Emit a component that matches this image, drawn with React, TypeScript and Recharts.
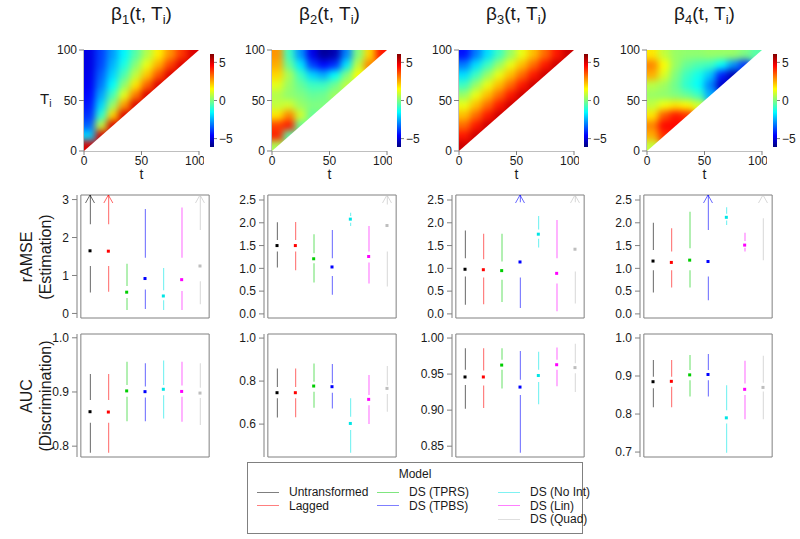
import React from "react";
import {
  ComposedChart,
  Scatter,
  Bar,
  Cell,
  XAxis,
  YAxis,
  ReferenceArea,
} from "recharts";

// ---- data ----

const MODELS = [
  "Untransformed",
  "Lagged",
  "DS (TPRS)",
  "DS (TPBS)",
  "DS (No Int)",
  "DS (Lin)",
  "DS (Quad)",
];

// heatmap cells: 10x10 grid over (t, T_i), only T_i >= t is defined
const CELL_T = [5, 15, 25, 35, 45, 55, 65, 75, 85, 95];
const CELL_TI = [95, 85, 75, 65, 55, 45, 35, 25, 15, 5];

const beta1Grid = [
  [-4.9, -3.8, -2.7, -1.6, -0.5, 0.6, 1.7, 2.8, 3.9, 5.0],
  [-4.9, -3.7, -2.4, -1.2, 0.1, 1.3, 2.5, 3.8, 5.0],
  [-4.8, -3.4, -2.0, -0.6, 0.8, 2.2, 3.6, 5.0],
  [-4.7, -3.1, -1.5, 0.2, 1.8, 3.4, 5.0],
  [-4.5, -2.6, -0.7, 1.2, 3.1, 5.0],
  [-4.3, -2.0, 0.3, 2.7, 5.0],
  [-4.0, -1.0, 2.0, 5.0],
  [-3.4, 0.8, 5.0],
  [-2.0, 5.0],
  [5.0],
];

const beta2Grid = [
  [2.8, -0.8, -2.8, -4.8, -5.8, -5.5, -3.0, 0.0, 2.0, 4.3],
  [2.5, -0.3, -1.8, -3.8, -4.5, -4.0, -1.8, 0.8, 3.0],
  [2.0, 0.5, -0.8, -2.0, -2.5, -1.5, 0.0, 1.5],
  [1.2, 0.3, -0.3, -0.8, -0.8, -0.2, 0.8],
  [0.6, 0.2, 0.0, -0.3, -0.2, 0.4],
  [0.8, 1.0, 0.3, 0.0, 0.0],
  [1.8, 3.0, 1.0, -0.3],
  [3.8, 4.3, -0.3],
  [4.2, -0.5],
  [0.5],
];

const beta3Grid = [
  [-4.4, -3.1, -1.9, -0.8, 0.3, 1.3, 2.3, 3.3, 4.3, 5.2],
  [-3.1, -1.9, -0.8, 0.3, 1.3, 2.3, 3.3, 4.3, 5.2],
  [-1.9, -0.8, 0.3, 1.3, 2.3, 3.3, 4.3, 5.2],
  [-0.8, 0.3, 1.3, 2.3, 3.3, 4.3, 5.2],
  [0.3, 1.3, 2.3, 3.3, 4.3, 5.2],
  [1.3, 2.3, 3.3, 4.3, 5.2],
  [2.3, 3.3, 4.3, 5.2],
  [3.3, 4.3, 5.2],
  [4.3, 5.2],
  [5.2],
];

const beta4Grid = [
  [1.8, 0.8, 0.3, 0.2, 0.2, 0.3, 0.3, 0.3, 0.0, -0.5],
  [3.0, 1.5, 0.3, -0.3, -0.6, -0.8, -1.5, -2.8, -4.0],
  [2.5, 1.1, 0.0, -0.8, -1.3, -2.2, -4.2, -5.5],
  [0.7, 0.4, -0.2, -1.0, -1.5, -3.0, -5.2],
  [0.3, 0.2, 0.0, -0.3, -0.8, -2.5],
  [0.8, 1.4, 1.8, 1.6, 1.0],
  [1.8, 3.5, 4.3, 4.0],
  [3.0, 4.5, 4.5],
  [2.5, 4.0],
  [0.8],
];

const HEAT_TICKS = [0, 50, 100];
const COLORBAR_TICKS = [-5, 0, 5];
const COLOR_LIMIT = 6.1;

// per model: [low whisker, q1, median, q3, high whisker]
const ramseB1 = [
  [0.55, 1.25, 1.65, 2.35, 3.6],
  [0.57, 1.25, 1.64, 2.35, 3.6],
  [0.09, 0.41, 0.56, 0.72, 1.31],
  [0.12, 0.63, 0.92, 1.47, 2.75],
  [0.09, 0.35, 0.46, 0.61, 1.2],
  [0.09, 0.59, 0.89, 1.47, 2.79],
  [0.24, 0.85, 1.25, 2.2, 3.6],
];
const ramseB2 = [
  [1.02, 1.37, 1.5, 1.62, 2.01],
  [0.96, 1.37, 1.5, 1.62, 2.02],
  [0.69, 1.11, 1.21, 1.33, 1.75],
  [0.42, 0.83, 1.03, 1.22, 1.84],
  [1.93, 2.0, 2.08, 2.15, 2.22],
  [0.67, 1.13, 1.26, 1.37, 1.93],
  [0.6, 1.37, 1.94, 2.4, 3.0],
];
const ramseB3 = [
  [0.2, 0.82, 0.98, 1.22, 1.83],
  [0.21, 0.8, 0.97, 1.2, 1.76],
  [0.26, 0.75, 0.95, 1.15, 1.76],
  [0.13, 0.8, 1.14, 2.45, 3.5],
  [1.46, 1.65, 1.75, 1.85, 2.15],
  [0.06, 0.67, 0.89, 1.22, 2.06],
  [0.23, 0.93, 1.42, 2.45, 3.5],
];
const ramseB4 = [
  [0.47, 0.96, 1.16, 1.4, 2.0],
  [0.58, 0.96, 1.13, 1.37, 1.88],
  [0.58, 0.96, 1.18, 1.44, 2.24],
  [0.3, 0.82, 1.15, 1.84, 3.5],
  [1.95, 2.05, 2.12, 2.2, 2.34],
  [1.37, 1.45, 1.51, 1.6, 1.78],
  [1.18, 2.1, 2.9, 3.2, 3.5],
];

const aucB1 = [
  [0.788, 0.843, 0.8636, 0.885, 0.933],
  [0.788, 0.843, 0.863, 0.885, 0.933],
  [0.846, 0.891, 0.902, 0.913, 0.956],
  [0.846, 0.89, 0.9006, 0.91, 0.953],
  [0.851, 0.894, 0.905, 0.913, 0.958],
  [0.845, 0.891, 0.901, 0.912, 0.956],
  [0.839, 0.889, 0.898, 0.908, 0.953],
];
const aucB2 = [
  [0.631, 0.72, 0.746, 0.773, 0.859],
  [0.632, 0.72, 0.746, 0.773, 0.858],
  [0.676, 0.75, 0.777, 0.797, 0.882],
  [0.673, 0.746, 0.774, 0.79, 0.88],
  [0.467, 0.572, 0.603, 0.634, 0.72],
  [0.6, 0.688, 0.715, 0.735, 0.828],
  [0.657, 0.74, 0.766, 0.78, 0.87],
];
const aucB3 = [
  [0.902, 0.935, 0.946, 0.956, 0.986],
  [0.903, 0.934, 0.946, 0.955, 0.986],
  [0.93, 0.956, 0.9625, 0.97, 0.986],
  [0.841, 0.921, 0.932, 0.942, 0.982],
  [0.908, 0.939, 0.948, 0.956, 0.981],
  [0.933, 0.956, 0.963, 0.97, 0.987],
  [0.925, 0.951, 0.959, 0.965, 0.992],
];
const aucB4 = [
  [0.818, 0.868, 0.885, 0.898, 0.942],
  [0.818, 0.872, 0.886, 0.898, 0.942],
  [0.846, 0.889, 0.903, 0.916, 0.955],
  [0.846, 0.889, 0.904, 0.916, 0.958],
  [0.698, 0.775, 0.79, 0.81, 0.876],
  [0.786, 0.85, 0.865, 0.88, 0.94],
  [0.786, 0.859, 0.87, 0.882, 0.953],
];

const ramseTicks = [
  [0, 1, 2, 3],
  [0, 0.5, 1, 1.5, 2, 2.5],
  [0, 0.5, 1, 1.5, 2, 2.5],
  [0, 0.5, 1, 1.5, 2, 2.5],
];
const ramseDomains = [
  [-0.12, 3.12],
  [-0.09, 2.61],
  [-0.09, 2.61],
  [-0.09, 2.61],
];
const aucTicks = [
  [0.8, 0.9, 1.0],
  [0.6, 0.8, 1.0],
  [0.85, 0.9, 0.95, 1.0],
  [0.7, 0.8, 0.9, 1.0],
];
const aucDomains = [
  [0.78, 1.007],
  [0.447, 1.019],
  [0.835, 1.0056],
  [0.687, 1.0105],
];

// ---- look ----

const FONT = '"Liberation Sans", Arial, Helvetica, sans-serif';
const TEXT = "#1a1a1a";
const AXIS_GRAY = "#808080";
const DOT_COLORS = ["#000000", "#ff0000", "#00cd00", "#0000ff", "#00e5e5", "#ff00ff", "#bebebe"];
const LINE_OPACITY = 0.6;

const HEAT_LEFTS = [84, 272, 459, 647];
const HEAT_W = 115;
const HEAT_TOP = 50;
const HEAT_H = 101;
const BAR_LEFTS = [210, 397, 584, 773];
const BOX_LEFTS = [77, 264, 452, 640];
const BOX_W = 136;
const BOX_H = 123;
const RAMSE_TOP = 195;
const AUC_TOP = 334;

const tickStyle = { fill: TEXT, fontSize: 12, fontFamily: FONT };

function jet(v: number) {
  const x = Math.min(1, Math.max(0, (v + COLOR_LIMIT) / (2 * COLOR_LIMIT)));
  const c = (a: number) => Math.round(255 * Math.min(1, Math.max(0, a)));
  const r = c(1.5 - Math.abs(4 * x - 3));
  const g = c(1.5 - Math.abs(4 * x - 2));
  const b = c(1.5 - Math.abs(4 * x - 1));
  return `rgb(${r},${g},${b})`;
}

const HeatCell = (p: any) => {
  const w = HEAT_W / 10;
  const h = HEAT_H / 10;
  return (
    <rect
      x={p.cx - w / 2 - 0.3}
      y={p.cy - h / 2 - 0.3}
      width={w + 0.6}
      height={h + 0.6}
      fill={jet(p.payload.v)}
    />
  );
};

// white lower-right half (T_i < t), anchored at the (100, 0) corner
const UndefinedHalf = (p: any) => {
  const { cx, cy } = p;
  return (
    <polygon
      points={`${cx - HEAT_W},${cy} ${cx},${cy - HEAT_H} ${cx + 8},${cy - HEAT_H} ${cx + 8},${cy + 8} ${cx - HEAT_W},${cy + 8}`}
      fill="#ffffff"
    />
  );
};

const MedianDot = (p: any) => (
  <rect x={p.cx - 1.5} y={p.cy - 1.5} width={3} height={3} fill={DOT_COLORS[p.payload.idx]} />
);

const ArrowHead = (p: any) => {
  if (p.payload.tip == null) return <g />;
  return (
    <path
      d={`M${p.cx - 4.5},${p.cy + 8} L${p.cx},${p.cy} L${p.cx + 4.5},${p.cy + 8}`}
      fill="none"
      stroke={DOT_COLORS[p.payload.idx]}
      strokeOpacity={LINE_OPACITY}
      strokeWidth={1}
    />
  );
};

const UNDEFINED_CORNER = [{ t: 100, T: 0 }];

function HeatPanel({ grid, left }: { grid: number[][]; left: number }) {
  const cells = grid.flatMap((row, j) =>
    row.map((v, i) => ({ t: CELL_T[i], T: CELL_TI[j], v }))
  );
  return (
    <div style={{ position: "absolute", left: left - 40, top: HEAT_TOP - 10 }}>
      <ComposedChart
        width={40 + HEAT_W + 5}
        height={10 + HEAT_H + 30}
        margin={{ top: 10, right: 5, bottom: 0, left: 0 }}
      >
        <Scatter className="heat-cells" data={cells} dataKey="T" shape={HeatCell} isAnimationActive={false} />
        <Scatter data={UNDEFINED_CORNER} dataKey="T" shape={UndefinedHalf} isAnimationActive={false} />
        <XAxis
          type="number"
          dataKey="t"
          domain={[0, 100]}
          ticks={HEAT_TICKS}
          allowDataOverflow
          height={30}
          tickSize={4}
          tickMargin={1}
          stroke={AXIS_GRAY}
          tick={tickStyle}
        />
        <YAxis
          type="number"
          domain={[0, 100]}
          ticks={HEAT_TICKS}
          allowDataOverflow
          width={40}
          tickSize={5}
          tickMargin={2}
          stroke={AXIS_GRAY}
          tick={tickStyle}
        />
        <YAxis
          yAxisId="r"
          orientation="right"
          type="number"
          domain={[0, 100]}
          width={0}
          tick={false}
          stroke={AXIS_GRAY}
        />
      </ComposedChart>
    </div>
  );
}

function ColorBar({ left }: { left: number }) {
  return (
    <div style={{ position: "absolute", left, top: 48 }}>
      <ComposedChart width={4 + 30} height={105} data={[{ x: 0 }]} margin={{ top: 6, right: 0, bottom: 6, left: 0 }}>
        <XAxis type="number" dataKey="x" domain={[0, 1]} hide />
        <YAxis
          type="number"
          orientation="right"
          domain={[-COLOR_LIMIT, COLOR_LIMIT]}
          ticks={COLORBAR_TICKS}
          allowDataOverflow
          width={30}
          axisLine={false}
          tickSize={3}
          tickMargin={2}
          stroke={AXIS_GRAY}
          tick={tickStyle}
          tickFormatter={(v: number) => (v < 0 ? "\u2212" + Math.abs(v) : String(v))}
        />
        <ReferenceArea
          y1={-COLOR_LIMIT}
          y2={COLOR_LIMIT}
          fill="url(#jetV)"
          fillOpacity={1}
          stroke="none"
          ifOverflow="visible"
        />
      </ComposedChart>
    </div>
  );
}

function SummaryPanel({
  stats,
  domain,
  ticks,
  digits,
  left,
  top,
}: {
  stats: number[][];
  domain: number[];
  ticks: number[];
  digits: number;
  left: number;
  top: number;
}) {
  const rows = MODELS.map((m, i) => {
    const [lo, q1, med, q3, hi] = stats[i];
    return {
      m,
      idx: i,
      base: lo,
      low: q1 - lo,
      gap: q3 - q1,
      high: hi - q3,
      med,
      tip: hi > domain[1] ? domain[1] : null,
    };
  });
  return (
    <div style={{ position: "absolute", left: left - 45, top: top - 5 }}>
      <ComposedChart
        width={45 + BOX_W + 5}
        height={BOX_H + 10}
        data={rows}
        margin={{ top: 5, right: 5, bottom: 5, left: 0 }}
      >
        <ReferenceArea y1={domain[0]} y2={domain[1]} fill="none" stroke={AXIS_GRAY} ifOverflow="visible" />
        <Bar dataKey="base" stackId="s" barSize={1} fill="none" isAnimationActive={false} />
        <Bar dataKey="low" stackId="s" barSize={1} isAnimationActive={false}>
          {rows.map((r) => (
            <Cell key={r.m} fill={DOT_COLORS[r.idx]} fillOpacity={LINE_OPACITY} />
          ))}
        </Bar>
        <Bar dataKey="gap" stackId="s" barSize={1} fill="none" isAnimationActive={false} />
        <Bar dataKey="high" stackId="s" barSize={1} isAnimationActive={false}>
          {rows.map((r) => (
            <Cell key={r.m} fill={DOT_COLORS[r.idx]} fillOpacity={LINE_OPACITY} />
          ))}
        </Bar>
        <Scatter dataKey="med" shape={MedianDot} isAnimationActive={false} />
        <Scatter dataKey="tip" shape={ArrowHead} isAnimationActive={false} />
        <XAxis
          dataKey="m"
          type="category"
          hide
          allowDuplicatedCategory={false}
          padding={{ left: 3.85, right: 3.85 }}
        />
        <YAxis
          type="number"
          domain={domain}
          ticks={ticks}
          allowDataOverflow
          width={45}
          tickSize={5}
          tickMargin={3}
          stroke={AXIS_GRAY}
          tick={tickStyle}
          tickFormatter={(v: number) => v.toFixed(digits)}
        />
      </ComposedChart>
    </div>
  );
}

const sub = { fontSize: "0.68em", position: "relative" as const, top: "0.3em" };

function RowLabel({ lines, cy }: { lines: string[]; cy: number }) {
  return (
    <div
      style={{
        position: "absolute",
        left: 36 - 80,
        top: cy - 19,
        width: 160,
        height: 38,
        transform: "rotate(-90deg)",
        textAlign: "center",
        fontSize: 16,
        lineHeight: "19px",
        color: TEXT,
        whiteSpace: "nowrap",
      }}
    >
      {lines.map((l) => (
        <div key={l}>{l}</div>
      ))}
    </div>
  );
}

const LEGEND_COLS = [
  { x: 257, items: [0, 1] },
  { x: 377, items: [2, 3] },
  { x: 498, items: [4, 5, 6] },
];

function ModelLegend() {
  return (
    <div
      style={{
        position: "absolute",
        left: 247,
        top: 462,
        width: 334,
        height: 70,
        border: `1px solid ${AXIS_GRAY}`,
        fontSize: 12,
        color: TEXT,
      }}
    >
      <div style={{ position: "absolute", top: 4, width: "100%", textAlign: "center" }}>Model</div>
      {LEGEND_COLS.map((col) =>
        col.items.map((idx, r) => (
          <div
            key={idx}
            style={{
              position: "absolute",
              left: col.x - 248,
              top: 22 + r * 13.5,
              height: 14,
              display: "flex",
              alignItems: "center",
              whiteSpace: "nowrap",
            }}
          >
            <span
              style={{
                display: "inline-block",
                width: 22,
                height: 1,
                background: DOT_COLORS[idx],
                opacity: 0.5,
                marginRight: 10,
              }}
            />
            <span>{MODELS[idx]}</span>
          </div>
        ))
      )}
    </div>
  );
}

export default function App() {
  const grids = [beta1Grid, beta2Grid, beta3Grid, beta4Grid];
  const ramse = [ramseB1, ramseB2, ramseB3, ramseB4];
  const auc = [aucB1, aucB2, aucB3, aucB4];
  return (
    <div
      style={{
        position: "absolute",
        left: 0,
        top: 0,
        width: 800,
        height: 539,
        background: "#fff",
        fontFamily: FONT,
        overflow: "hidden",
      }}
    >
      <style>{`.heat-cells { filter: url(#heatBlur); }`}</style>
      <svg width={0} height={0} style={{ position: "absolute" }}>
        <defs>
          <filter id="heatBlur" x="-15%" y="-15%" width="130%" height="130%" colorInterpolationFilters="sRGB">
            <feGaussianBlur stdDeviation={3.5} />
            <feComponentTransfer>
              <feFuncA type="linear" slope={40} intercept={0} />
            </feComponentTransfer>
          </filter>
          <linearGradient id="jetV" x1="0" y1="1" x2="0" y2="0">
            <stop offset="0" stopColor="#000080" />
            <stop offset="0.125" stopColor="#0000ff" />
            <stop offset="0.375" stopColor="#00ffff" />
            <stop offset="0.625" stopColor="#ffff00" />
            <stop offset="0.875" stopColor="#ff0000" />
            <stop offset="1" stopColor="#800000" />
          </linearGradient>
        </defs>
      </svg>

      {HEAT_LEFTS.map((l, k) => (
        <div
          key={"title" + k}
          style={{ position: "absolute", left: l + HEAT_W / 2 - 60, top: 3, width: 120, textAlign: "center", fontSize: 19, color: TEXT }}
        >
          β<span style={sub}>{k + 1}</span>(t, T<span style={sub}>i</span>)
        </div>
      ))}

      {grids.map((g, k) => (
        <HeatPanel key={"heat" + k} grid={g} left={HEAT_LEFTS[k]} />
      ))}
      {BAR_LEFTS.map((l, k) => (
        <ColorBar key={"bar" + k} left={l} />
      ))}
      {HEAT_LEFTS.map((l, k) => (
        <div
          key={"tl" + k}
          style={{ position: "absolute", left: l + HEAT_W / 2 - 10, top: 166, width: 20, textAlign: "center", fontSize: 14, color: TEXT }}
        >
          t
        </div>
      ))}
      <div style={{ position: "absolute", left: 40, top: 90, fontSize: 15, color: TEXT }}>
        T<span style={sub}>i</span>
      </div>

      {ramse.map((s, k) => (
        <SummaryPanel
          key={"ramse" + k}
          stats={s}
          domain={ramseDomains[k]}
          ticks={ramseTicks[k]}
          digits={k === 0 ? 0 : 1}
          left={BOX_LEFTS[k]}
          top={RAMSE_TOP}
        />
      ))}
      {auc.map((s, k) => (
        <SummaryPanel
          key={"auc" + k}
          stats={s}
          domain={aucDomains[k]}
          ticks={aucTicks[k]}
          digits={k === 2 ? 2 : 1}
          left={BOX_LEFTS[k]}
          top={AUC_TOP}
        />
      ))}

      <RowLabel lines={["rAMSE", "(Estimation)"]} cy={RAMSE_TOP + BOX_H / 2} />
      <RowLabel lines={["AUC", "(Discrimination)"]} cy={AUC_TOP + BOX_H / 2} />

      <ModelLegend />
    </div>
  );
}
